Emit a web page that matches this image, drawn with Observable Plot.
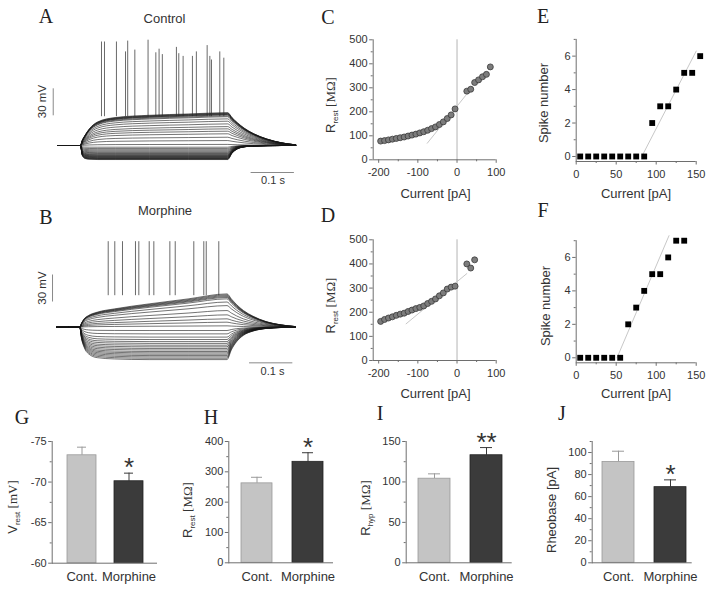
<!DOCTYPE html>
<html><head><meta charset="utf-8">
<script src="https://cdn.jsdelivr.net/npm/d3@7"></script>
<script src="https://cdn.jsdelivr.net/npm/@observablehq/plot@0.6"></script>
<style>
body{margin:0;background:#fff;}
#fig{position:relative;width:713px;height:589px;overflow:hidden;background:#fff;}
</style></head><body><div id="fig"></div>
<script>
// ---------------- DATA ----------------
// Panels A/B: voltage traces (mV deflection from rest at end of the 340 ms step)
const traceTimes = [-53, 0, 4, 10, 20, 40, 80, 160, 250, 340, 350, 362, 378, 400, 430, 465, 497];
const controlDepolShape = [0, 0, 0.15, 0.3, 0.5, 0.72, 0.85, 0.92, 0.96, 1, 0.85, 0.7, 0.53, 0.36, 0.2, 0.08, 0.02];
const controlHyperShape = [0, 0, 0.7, 0.92, 0.98, 1, 1, 1, 1, 1, 0.55, 0.25, 0.1, 0.03, 0.01, 0, 0];
const morphDepolShape = [0, 0, 0.12, 0.25, 0.35, 0.45, 0.55, 0.7, 0.85, 1, 0.85, 0.68, 0.5, 0.33, 0.17, 0.07, 0.02];
const morphHyperShape = [0, 0, 0.35, 0.62, 0.82, 0.94, 0.98, 1, 1, 1, 0.7, 0.45, 0.25, 0.12, 0.04, 0.01, 0];
const restPotential = -70;
const controlHyperAmp = [-15.6,-15.2,-14.8,-14.4,-14.0,-13.5,-13.0,-12.5,-12.0,-11.5,-10.9,-10.3,-9.6,-8.8,-8.0,-7.0,-5.9,-4.7,-3.4,-1.9];
const controlDepolAmp = [1.2, 5.5, 9.2, 13, 15.9, 18.5, 21, 24, 27, 29.6, 32];
const controlSpikingAmp = [33, 34, 34.5, 35, 35.5, 36, 36.5];
const morphHyperAmp = [-36,-34.5,-33,-31.5,-30,-28.5,-27,-25.3,-23.6,-21.8,-20,-18,-16,-13.7,-11,-7.4,-3.7];
const morphDepolAmp = [1.5, 5.6, 9.3, 13.7, 18.5, 24, 28, 31.5];
const morphSpikingAmp = [33, 34, 35, 36, 37];
const controlSpikeTimes = [48.5, 55.4, 83, 104, 109, 125.5, 156, 174, 181.5, 189, 221.5, 227, 237, 258.5, 267.6, 292.5, 298.7, 302.5, 321.7, 331];
const controlSpikePeaks = [45, 45, 45, 34, 46, 36, 47, 33, 37, 31, 39, 32, 29, 29, 34, 41, 29, 25, 34, 27];
const controlSpikeBase = -38;
const morphSpikeTimes = [65.6, 80.8, 98.6, 128.6, 136.3, 160.3, 171, 208, 220.4, 263.3, 286.4, 292, 321];
const morphSpikePeaks = [25, 25, 25, 25, 25, 25, 25, 25, 25, 25, 25, 25, 25];
const morphSpikeBase = -35;

// Panels C/D: input resistance vs current
const cCurrent = [-195,-185,-175,-165,-155,-145,-135,-125,-115,-105,-95,-85,-75,-65,-55,-45,-35,-25,-15,-5,25,35,45,55,65,75,85];
const cRrest = [78,80,83,86,89,92,95,99,103,107,112,117,123,130,137,147,158,172,187,212,286,294,322,333,346,356,387];
const cFit = [[-76, 69], [22, 268]];
const dCurrent = [-195,-185,-175,-165,-155,-145,-135,-125,-115,-105,-95,-85,-75,-65,-55,-45,-35,-25,-15,-5,25,35,45];
const dRrest = [162,170,176,181,187,192,196,203,209,215,220,226,236,245,255,268,280,296,304,308,400,383,417];
const dFit = [[-130, 152], [25, 360]];

// Panels E/F: spike number vs current
const eCurrent = [5,15,25,35,45,55,65,75,85,95,105,115,125,135,145,155];
const eSpikes = [0,0,0,0,0,0,0,0,0,2,3,3,4,5,5,6];
const eFit = [[82, 0], [150, 6.3]];
const fCurrent = [5,15,25,35,45,55,65,75,85,95,105,115,125,135];
const fSpikes = [0,0,0,0,0,0,2,3,4,5,5,6,7,7];
const fFit = [[51, 0], [116, 7.3]];

// Panels G-J: group means and SEM
const groups = ["Cont.", "Morphine"];
const vrestMean = [-73.3, -70.1], vrestSem = [1.0, 1.0];
const rrestMean = [262, 333], rrestSem = [20, 30];
const rhypMean = [104, 133], rhypSem = [6, 9.5];
const rheoMean = [91.5, 68.6], rheoSem = [9.7, 6.6];
const vrestSig = ["", "*"], rrestSig = ["", "*"], rhypSig = ["", "**"], rheoSig = ["", "*"];

// ---------------- DRAWING ----------------
const W = 713, H = 589;
const fig = document.getElementById("fig");
const SANS = '"Liberation Sans", Arial, sans-serif';
const SERIF = '"Liberation Serif", "Times New Roman", serif';
const AX = "#6e6e6e", TX = "#333";

function make(g, x, y, marks) {
  const svg = Plot.plot({
    width: W, height: H,
    marginLeft: g.l, marginRight: W - g.r, marginTop: g.t, marginBottom: H - g.b,
    x, y,
    style: `position:absolute;left:0;top:0;background:transparent;overflow:visible;max-width:none;font-family:${SANS};`,
    marks
  });
  fig.appendChild(svg);
  return svg;
}

function axes(xMaj, xMin, yMaj, yMin, xBase, yBase) {
  return [
    Plot.ruleX([xBase], {stroke: AX, strokeWidth: 1}),
    Plot.ruleY([yBase], {stroke: AX, strokeWidth: 1}),
    Plot.axisY(yMaj, {tickSize: 3.5, tickPadding: 2, fontSize: 11, fill: TX, stroke: AX, tickFormat: d => String(d), label: null}),
    Plot.axisY(yMin, {tickSize: 2, tickPadding: 0, stroke: AX, tickFormat: () => "", label: null}),
    Plot.axisX(xMaj, {tickSize: 3.5, tickPadding: 5, fontSize: 11, fill: TX, stroke: AX, tickFormat: d => String(d), label: null}),
    Plot.axisX(xMin, {tickSize: 2, tickPadding: 0, stroke: AX, tickFormat: () => "", label: null})
  ];
}

// ----- A / B traces -----
function traceRows(amps, shape, tag) {
  const rows = [];
  amps.forEach((a, j) => traceTimes.forEach((t, k) => rows.push({id: tag + j, t, v: restPotential + a * shape[k]})));
  return rows;
}
function tracePanel(g, hyperAmp, hyperShape, depolAmp, depolShape, spikingAmp, spikeTimes, spikePeaks, spikeBase, barV, barH) {
  const rows = [
    ...traceRows(hyperAmp, hyperShape, "h"),
    ...traceRows(depolAmp, depolShape, "d"),
    ...traceRows(spikingAmp, depolShape, "s")
  ];
  const spikes = spikeTimes.map((t, i) => ({t, base: spikeBase, peak: spikePeaks[i]}));
  make(g, {domain: [-53, 497], axis: null}, {domain: [-110, 40], axis: null}, [
    Plot.line(rows, {x: "t", y: "v", z: "id", curve: "monotone-x", stroke: "#161616", strokeWidth: 0.6}),
    Plot.ruleX(spikes, {x: "t", y1: "base", y2: "peak", stroke: "#2a2a2a", strokeWidth: 0.7}),
    Plot.ruleX([barV.t], {y1: barV.y1, y2: barV.y2, stroke: "#8a8a8a", strokeWidth: 1}),
    Plot.ruleY([barH.v], {x1: barH.x1, x2: barH.x2, stroke: "#8a8a8a", strokeWidth: 1})
  ]);
}
tracePanel({l: 57.05, r: 295.2, t: 46, b: 181}, controlHyperAmp, controlHyperShape, controlDepolAmp, controlDepolShape,
  controlSpikingAmp, controlSpikeTimes, controlSpikePeaks, controlSpikeBase,
  {t: -63, y1: -37, y2: -7}, {v: -100, x1: 394, x2: 494});
tracePanel({l: 56.35, r: 294.5, t: 227.7, b: 362.7}, morphHyperAmp, morphHyperShape, morphDepolAmp, morphDepolShape,
  morphSpikingAmp, morphSpikeTimes, morphSpikePeaks, morphSpikeBase,
  {t: -63, y1: -42, y2: -12}, {v: -109.6, x1: 392, x2: 492});

// ----- C / D -----
function ivPanel(g, cur, res, fit) {
  const pts = cur.map((c, i) => ({c, r: res[i]}));
  make(g, {domain: [-214, 100]}, {domain: [0, 500]}, [
    Plot.ruleX([0], {stroke: "#b4b4b4", strokeWidth: 1}),
    Plot.line(fit, {x: d => d[0], y: d => d[1], stroke: "#c8c8c8", strokeWidth: 1}),
    ...axes([-200, -100, 0, 100], [-150, -50, 50], [0, 100, 200, 300, 400, 500], [50, 150, 250, 350, 450], -214, 0),
    Plot.dot(pts, {x: "c", y: "r", r: 3, fill: "#7c7c7c", stroke: "#3a3a3a", strokeWidth: 0.8})
  ]);
}
ivPanel({l: 372.7, r: 495.7, t: 39.3, b: 159.3}, cCurrent, cRrest, cFit);
ivPanel({l: 372.7, r: 495.7, t: 239.3, b: 360}, dCurrent, dRrest, dFit);

// ----- E / F -----
function spikePanel(g, cur, n, fit) {
  const pts = cur.map((c, i) => ({c, n: n[i]}));
  make(g, {domain: [0, 150]}, {domain: [-0.3, 7]}, [
    Plot.line(fit, {x: d => d[0], y: d => d[1], stroke: "#c8c8c8", strokeWidth: 1}),
    ...axes([0, 50, 100, 150], [25, 75, 125], [0, 2, 4, 6], [1, 3, 5, 7], 0, -0.3),
    Plot.dot(pts, {x: "c", y: "n", symbol: "square", r: 3.3, fill: "#000", stroke: null})
  ]);
}
spikePanel({l: 575.7, r: 695.7, t: 38.9, b: 161}, eCurrent, eSpikes, eFit);
spikePanel({l: 575.7, r: 695.7, t: 240.2, b: 362.3}, fCurrent, fSpikes, fFit);

// ----- G-J bars -----
const barFill = ["#c4c4c4", "#3b3b3b"], barStroke = ["#9a9a9a", "#222"], errStroke = ["#9a9a9a", "#3a3a3a"];
function barPanel(g, band, yDomain, yMaj, yMin, mean, sem, sig) {
  const base = yDomain[0];
  const rows = groups.map((grp, i) => {
    const dir = Math.sign(mean[i] - base);
    return {group: grp, mean: mean[i], top: mean[i] + dir * sem[i], sig: sig[i]};
  });
  const marks = [];
  rows.forEach((d, i) => {
    marks.push(Plot.ruleX([d], {x: "group", y1: "mean", y2: "top", stroke: errStroke[i], strokeWidth: 1}));
    marks.push(Plot.tickY([d], {x: "group", y: "top", stroke: errStroke[i], strokeWidth: 1, insetLeft: 10, insetRight: 10}));
    marks.push(Plot.barY([d], {x: "group", y1: base, y2: "mean", fill: barFill[i], stroke: barStroke[i], strokeWidth: 0.8}));
  });
  make(g, {type: "band", domain: groups, paddingInner: 0.39, paddingOuter: band.po, align: band.align},
    {domain: yDomain}, [
    ...marks,
    Plot.frame({anchor: "left", stroke: AX, strokeWidth: 1}),
    Plot.ruleY([base], {stroke: AX, strokeWidth: 1}),
    Plot.axisY(yMaj, {tickSize: 3.5, tickPadding: 2, fontSize: 11, fill: TX, stroke: AX, tickFormat: d => String(d), label: null}),
    Plot.axisY(yMin, {tickSize: 2, tickPadding: 0, stroke: AX, tickFormat: () => "", label: null}),
    Plot.axisX(groups, {tickSize: 0, tickPadding: 9, fontSize: 13, fill: TX, label: null}),
    Plot.text(rows, {x: "group", y: "top", text: "sig", fontSize: 26, fill: "#333", lineAnchor: "bottom", dy: 3, fontFamily: SANS})
  ]);
}
barPanel({l: 51.7, r: 157, t: 441, b: 562.7}, {po: 0.3, align: 0.52}, [-60, -75], [-75, -70, -65, -60], [-72.5, -67.5, -62.5], vrestMean, vrestSem, vrestSig);
barPanel({l: 228.3, r: 333, t: 441, b: 562.3}, {po: 0.21, align: 0.57}, [0, 400], [0, 100, 200, 300, 400], [50, 150, 250, 350], rrestMean, rrestSem, rrestSig);
barPanel({l: 405.7, r: 511.7, t: 441, b: 562.3}, {po: 0.2, align: 0.54}, [0, 150], [0, 50, 100, 150], [25, 75, 125], rhypMean, rhypSem, rhypSig);
barPanel({l: 591.7, r: 691.7, t: 441, b: 562.3}, {po: 0.15, align: 0.66}, [0, 110], [0, 20, 40, 60, 80, 100], [10, 30, 50, 70, 90, 110], rheoMean, rheoSem, rheoSig);

// ----- text overlay -----
const txt = d3.select(fig).append("svg").attr("width", W).attr("height", H)
  .style("position", "absolute").style("left", 0).style("top", 0).style("overflow", "visible");

function plain(x, y, s, {size = 13, family = SANS, anchor = "middle", fill = TX} = {}) {
  txt.append("text").attr("x", x).attr("y", y).attr("text-anchor", anchor).attr("font-family", family)
    .attr("font-size", size).attr("fill", fill).style("white-space", "pre").text(s);
}
function yLabel(cx, cy, main, sub, tail, tailSerif, size = 13) {
  const t = txt.append("text").attr("transform", `translate(${cx},${cy}) rotate(-90)`).attr("y", size * 0.35)
    .attr("text-anchor", "middle").attr("font-family", SANS).attr("font-size", size).attr("fill", TX).style("white-space", "pre");
  t.append("tspan").text(main);
  if (sub) t.append("tspan").attr("font-size", 8).attr("dy", 3).text(sub);
  if (tail) t.append("tspan").attr("dy", sub ? -3 : 0).attr("font-family", tailSerif ? SERIF : SANS).text(tail);
}

// panel letters
[["A", 46, 23], ["B", 46, 224], ["C", 328, 24], ["D", 328, 222], ["E", 543, 23], ["F", 543, 217],
 ["G", 22, 424], ["H", 211, 424], ["I", 380, 420], ["J", 562, 420]]
  .forEach(([s, x, y]) => plain(x, y, s, {size: 20, family: SERIF, fill: "#222"}));

plain(164.5, 22.7, "Control");
plain(165, 214.5, "Morphine");
// scale bar labels
yLabel(41.7, 101.5, "30 mV", null, null, false, 11.5);
yLabel(41.7, 288, "30 mV", null, null, false, 11.5);
plain(273, 183.5, "0.1 s", {size: 11});
plain(272.5, 375, "0.1 s", {size: 11});

// axis labels
yLabel(330, 105, "R", "rest", " [MΩ]", true);
yLabel(330, 305.5, "R", "rest", " [MΩ]", true);
plain(435.5, 197.5, "Current [pA]");
plain(435.5, 398, "Current [pA]");
yLabel(543.5, 103, "Spike number");
yLabel(545, 306, "Spike number");
plain(636, 198, "Current [pA]");
plain(636, 398, "Current [pA]");
yLabel(12.3, 507, "V", "rest", " [mV]", true);
yLabel(187, 510, "R", "rest", " [MΩ]", true);
yLabel(365.5, 508, "R", "hyp", " [MΩ]", true);
yLabel(551, 510, "Rheobase [pA]");
</script>
</body></html>
